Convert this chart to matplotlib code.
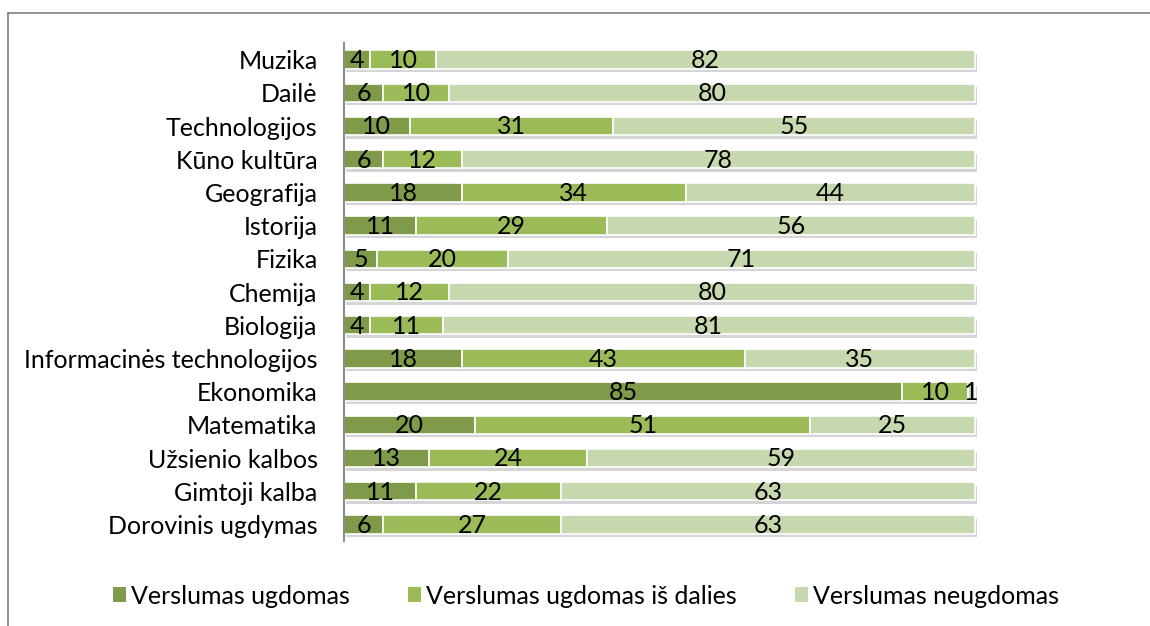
import matplotlib
matplotlib.use("Agg")
import matplotlib.pyplot as plt
import matplotlib.patheffects as pe
from matplotlib.patches import Patch
from matplotlib.lines import Line2D

categories = ["Muzika", "Dailė", "Technologijos", "Kūno kultūra", "Geografija",
              "Istorija", "Fizika", "Chemija", "Biologija",
              "Informacinės technologijos", "Ekonomika", "Matematika",
              "Užsienio kalbos", "Gimtoji kalba", "Dorovinis ugdymas"]
ugdomas = [4, 6, 10, 6, 18, 11, 5, 4, 4, 18, 85, 20, 13, 11, 6]
is_dalies = [10, 10, 31, 12, 34, 29, 20, 12, 11, 43, 10, 51, 24, 22, 27]
neugdomas = [82, 80, 55, 78, 44, 56, 71, 80, 81, 35, 1, 25, 59, 63, 63]
series_names = ["Verslumas ugdomas", "Verslumas ugdomas iš dalies", "Verslumas neugdomas"]
colors = ["#7F9A48", "#9BBB59", "#C8D8AE"]

plt.rcParams['font.family'] = ['Lato', 'DejaVu Sans']
FS = 18

fig = plt.figure(figsize=(11.5, 6.26), dpi=100)
ax = fig.add_axes([344/1150, 85/626, 657/1150, 498/626])

n = len(categories)
ypos = list(range(n))
lefts = [0]*n
shadow = [pe.SimplePatchShadow(offset=(1.5, -2.5), shadow_rgbFace='#888888', alpha=0.35), pe.Normal()]
for vals, col, name in zip([ugdomas, is_dalies, neugdomas], colors, series_names):
    bars = ax.barh(ypos, vals, left=lefts, height=0.55, color=col,
                   edgecolor='white', linewidth=1.2, label=name)
    for b in bars:
        b.set_path_effects(shadow)
    for i, (l, v) in enumerate(zip(lefts, vals)):
        ax.text(l + v/2, i + 0.03, str(v), ha='center', va='center', fontsize=FS, color='black')
    lefts = [l + v for l, v in zip(lefts, vals)]

ax.set_xlim(0, 100)
ax.set_ylim(n - 0.5, -0.5)
ax.set_yticks(ypos)
ax.set_yticklabels(categories, fontsize=FS)
ax.tick_params(axis='y', length=0, pad=19)
ax.set_xticks([])
for s in ['top', 'right', 'bottom']:
    ax.spines[s].set_visible(False)
ax.spines['left'].set_color('#8C8C8C')
ax.spines['left'].set_linewidth(1.5)

handles = [Patch(facecolor=c, edgecolor='none') for c in colors]
fig.legend(handles, series_names, loc='center', bbox_to_anchor=(586/1150, 1 - 596/626),
           ncol=3, frameon=False, fontsize=FS, handlelength=0.55, handleheight=0.55,
           handletextpad=0.2, columnspacing=2.3)

# chart frame
fig.add_artist(Line2D([8/1150, 1.0], [1 - 13/626, 1 - 13/626], transform=fig.transFigure,
                      color='#7F7F7F', linewidth=1.2))
fig.add_artist(Line2D([8/1150, 8/1150], [0, 1 - 13/626], transform=fig.transFigure,
                      color='#7F7F7F', linewidth=1.2))

fig.savefig("out.png", dpi=100)
